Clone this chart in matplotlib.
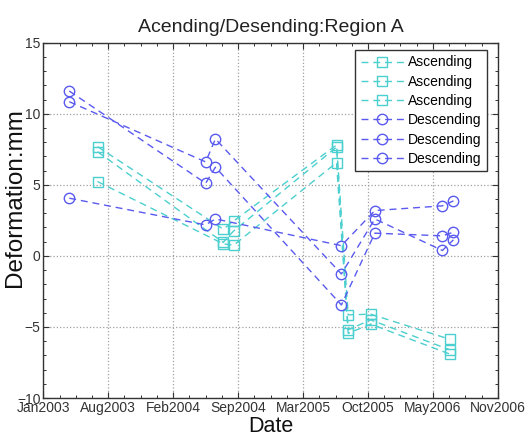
import matplotlib
matplotlib.use("Agg")
import matplotlib.pyplot as plt
import matplotlib.dates as mdates
from matplotlib.ticker import FixedLocator, MultipleLocator
import datetime as dt

plt.rcParams['font.family'] = ['Liberation Sans', 'DejaVu Sans']

# ---- data ----
asc_dates = ["2003-07-04", "2004-07-25", "2004-08-26", "2005-07-09",
             "2005-08-14", "2005-10-22", "2006-06-22"]
asc_1 = [7.69, 1.88, 2.45, 7.80, -4.15, -4.10, -5.86]
asc_2 = [7.33, 0.95, 1.75, 7.65, -5.20, -4.50, -6.60]
asc_3 = [5.23, 0.85, 0.75, 6.56, -5.45, -4.80, -6.90]

desc_dates = ["2003-04-08", "2004-06-01", "2004-07-01", "2005-07-24",
              "2005-11-04", "2006-05-31", "2006-07-04"]
desc_1 = [11.60, 5.11, 6.24, -3.45, 1.60, 1.41, 1.67]
desc_2 = [10.85, 6.61, 8.23, -1.27, 2.60, 0.38, 1.13]
desc_3 = [4.06, 2.18, 2.60, 0.72, 3.19, 3.52, 3.87]

tick_start = "2003-01-18"
tick_step_days = 200
tick_labels = ["Jan2003", "Aug2003", "Feb2004", "Sep2004", "Mar2005",
               "Oct2005", "May2006", "Nov2006"]

title = "Acending/Desending:Region A"
xlabel = "Date"
ylabel = "Deformation:mm"

# ---- plot ----
def to_num(ds):
    return [mdates.date2num(dt.datetime.strptime(d, "%Y-%m-%d")) for d in ds]

fig = plt.figure(figsize=(5.28, 4.38), dpi=100)
ax = fig.add_axes([0.082, 0.0913, 0.861, 0.8112])

asc_color = '#4ccfcf'
desc_color = '#5a5af0'
dash = (5, 3.5)

xa = to_num(asc_dates)
xd = to_num(desc_dates)
for ys in (asc_1, asc_2, asc_3):
    ax.plot(xa, ys, linestyle='--', dashes=dash, color=asc_color, lw=1.0,
            marker='s', markersize=7, markerfacecolor='none',
            markeredgecolor=asc_color, markeredgewidth=1.0, label='Ascending')
for ys in (desc_1, desc_2, desc_3):
    ax.plot(xd, ys, linestyle='--', dashes=dash, color=desc_color, lw=1.0,
            marker='o', markersize=7.5, markerfacecolor='none',
            markeredgecolor=desc_color, markeredgewidth=1.0, label='Descending')

t0 = mdates.date2num(dt.datetime.strptime(tick_start, "%Y-%m-%d"))
ticks = [t0 + i * tick_step_days for i in range(len(tick_labels))]
ax.set_xlim(ticks[0], ticks[-1])
ax.set_xticks(ticks)
ax.set_xticklabels(tick_labels)
ax.xaxis.set_minor_locator(FixedLocator(
    [t0 + i * tick_step_days / 4 for i in range(4 * (len(tick_labels) - 1) + 1)]))

ax.set_ylim(-10, 15)
ax.yaxis.set_major_locator(MultipleLocator(5))
ax.yaxis.set_minor_locator(MultipleLocator(1))

ax.grid(True, which='major', linestyle=':', color='#a0a0a0', lw=0.9)
ax.tick_params(which='both', direction='in', top=True, right=True,
               labelsize=10, colors='#333333', pad=2)
ax.tick_params(which='major', length=4, width=0.8)
ax.tick_params(which='minor', length=2.5, width=0.7)
for s in ax.spines.values():
    s.set_color('#333333')
    s.set_linewidth(1.0)

ax.set_title(title, fontsize=14, color='#222222', pad=8)
ax.set_xlabel(xlabel, fontsize=15.5, color='#111111', labelpad=1)
ax.set_ylabel(ylabel, fontsize=17.5, color='#111111')
ax.yaxis.set_label_coords(-0.037, 0.565)

leg = ax.legend(loc='upper right', bbox_to_anchor=(0.922, 0.886),
                bbox_transform=fig.transFigure, fontsize=10, frameon=True,
                fancybox=False, edgecolor='#333333', framealpha=1,
                handlelength=3.1, handletextpad=0.3, labelspacing=0.38,
                borderpad=0.4, borderaxespad=0)
leg.get_frame().set_linewidth(1.0)

fig.savefig("out.png", dpi=100)
